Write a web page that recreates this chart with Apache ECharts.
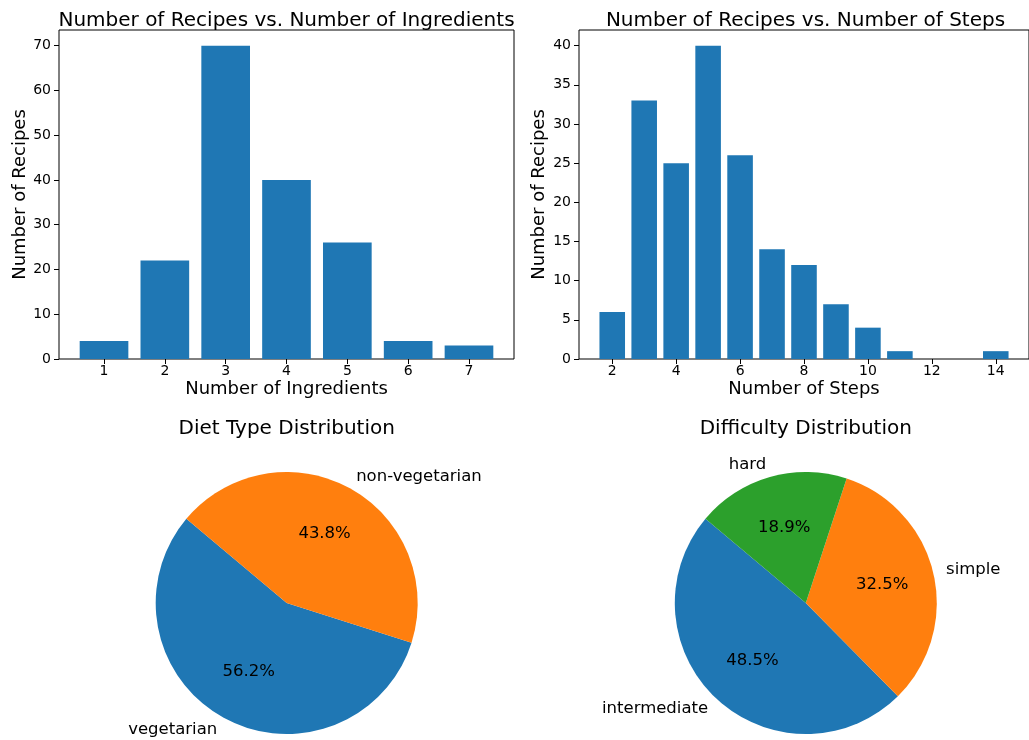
<!DOCTYPE html>
<html>
<head>
<meta charset="utf-8">
<script src="https://cdn.jsdelivr.net/npm/echarts@6/dist/echarts.min.js"></script>
<style>
  html, body { margin: 0; padding: 0; background: #fff; }
  #chart { width: 1029px; height: 740px; }
</style>
</head>
<body>
<div id="chart"></div>
<script>
// ---- data ----
const ingredientCats = [1, 2, 3, 4, 5, 6, 7];
const ingredientCounts = [4, 22, 70, 40, 26, 4, 3];
const ingredientXTicks = [1, 2, 3, 4, 5, 6, 7];
const ingredientYTicks = [0, 10, 20, 30, 40, 50, 60, 70];

const stepCats = [2, 3, 4, 5, 6, 7, 8, 9, 10, 11, 14];
const stepCounts = [6, 33, 25, 40, 26, 14, 12, 7, 4, 1, 1];
const stepXTicks = [2, 4, 6, 8, 10, 12, 14];
const stepYTicks = [0, 5, 10, 15, 20, 25, 30, 35, 40];

const dietLabels = ['vegetarian', 'non-vegetarian'];
const dietCounts = [95, 74];

const difficultyLabels = ['intermediate', 'simple', 'hard'];
const difficultyCounts = [82, 55, 32];

const titles = [
  'Number of Recipes vs. Number of Ingredients',
  'Number of Recipes vs. Number of Steps',
  'Diet Type Distribution',
  'Difficulty Distribution'
];

// ---- styling ----
const FONT = 'DejaVu Sans';
const BLUE = '#1f77b4', ORANGE = '#ff7f0e', GREEN = '#2ca02c';
const pieColors = [BLUE, ORANGE, GREEN];

const chart = echarts.init(document.getElementById('chart'), null, { renderer: 'canvas' });

function xAxisDef(gridIndex, min, max, ticks, name) {
  return {
    type: 'value', gridIndex, min, max,
    name, nameLocation: 'middle', nameGap: 21,
    nameTextStyle: { fontFamily: FONT, fontSize: 18, color: '#000' },
    axisLine: { show: false },
    axisTick: { show: true, length: 5, lineStyle: { color: '#000' }, customValues: ticks },
    axisLabel: { fontFamily: FONT, fontSize: 14, color: '#000', margin: 5, customValues: ticks },
    splitLine: { show: false }
  };
}
function yAxisDef(gridIndex, max, ticks, gap) {
  return {
    type: 'value', gridIndex, min: 0, max,
    name: 'Number of Recipes', nameLocation: 'middle', nameGap: gap, nameRotate: 90,
    nameTextStyle: { fontFamily: FONT, fontSize: 18, color: '#000' },
    axisLine: { show: false },
    axisTick: { show: true, length: 5, lineStyle: { color: '#000' }, customValues: ticks },
    axisLabel: { fontFamily: FONT, fontSize: 14, color: '#000', margin: 8, customValues: ticks },
    splitLine: { show: false }
  };
}

function pct(arr) {
  const total = arr.reduce((a, b) => a + b, 0);
  return function (p) { return (arr[p.dataIndex] / total * 100).toFixed(1) + '%'; };
}

function pieSeries(center, labels, counts) {
  const data = labels.map((n, i) => ({ name: n, value: counts[i], itemStyle: { color: pieColors[i] } }));
  const R = 131;
  return [
    {
      type: 'pie', center, radius: [0, R], startAngle: 140, clockwise: false,
      avoidLabelOverlap: false, silent: true,
      itemStyle: { borderWidth: 0 },
      label: {
        show: true, position: 'outside', fontFamily: FONT, fontSize: 16.5, color: '#000',
        distanceToLabelLine: 0
      },
      labelLine: { show: false, length: R * 0.1, length2: 0 },
      data
    },
    {
      type: 'pie', center, radius: [R * 0.2 - 6, R], startAngle: 140, clockwise: false,
      avoidLabelOverlap: false, silent: true,
      itemStyle: { color: 'rgba(0,0,0,0)', borderWidth: 0 },
      label: {
        show: true, position: 'inside', fontFamily: FONT, fontSize: 16.5, color: '#000',
        formatter: pct(counts)
      },
      labelLine: { show: false },
      data: labels.map((n, i) => ({ name: n, value: counts[i] }))
    }
  ];
}

const titleStyle = { fontFamily: FONT, fontSize: 20, fontWeight: 'normal', color: '#000' };

const option = {
  animation: false,
  backgroundColor: '#fff',
  title: [
    { text: titles[0], left: 281.5, top: 6, textAlign: 'center', textStyle: titleStyle },
    { text: titles[1], left: 800.5, top: 6, textAlign: 'center', textStyle: titleStyle },
    { text: titles[2], left: 281.7, top: 414, textAlign: 'center', textStyle: titleStyle },
    { text: titles[3], left: 800.8, top: 414, textAlign: 'center', textStyle: titleStyle }
  ],
  grid: [
    { left: 59, top: 30, width: 455, height: 329, show: true, borderColor: '#000', borderWidth: 1, backgroundColor: 'transparent' },
    { left: 579, top: 30, width: 453, height: 329, show: true, borderColor: '#000', borderWidth: 1, backgroundColor: 'transparent' }
  ],
  xAxis: [
    xAxisDef(0, 0.26, 7.74, ingredientXTicks, 'Number of Ingredients'),
    xAxisDef(1, 0.96, 15.04, stepXTicks, 'Number of Steps')
  ],
  yAxis: [
    yAxisDef(0, 73.5, ingredientYTicks, 30),
    yAxisDef(1, 42, stepYTicks, 31)
  ],
  series: [
    {
      type: 'bar', xAxisIndex: 0, yAxisIndex: 0, barWidth: '80%', silent: true,
      itemStyle: { color: BLUE },
      data: ingredientCats.map((c, i) => [c, ingredientCounts[i]])
    },
    {
      type: 'bar', xAxisIndex: 1, yAxisIndex: 1, barWidth: '80%', silent: true,
      itemStyle: { color: BLUE },
      data: stepCats.map((c, i) => [c, stepCounts[i]])
    },
    ...pieSeries([286.7, 603], dietLabels, dietCounts),
    ...pieSeries([805.8, 603], difficultyLabels, difficultyCounts)
  ]
};

chart.setOption(option);
</script>
</body>
</html>
